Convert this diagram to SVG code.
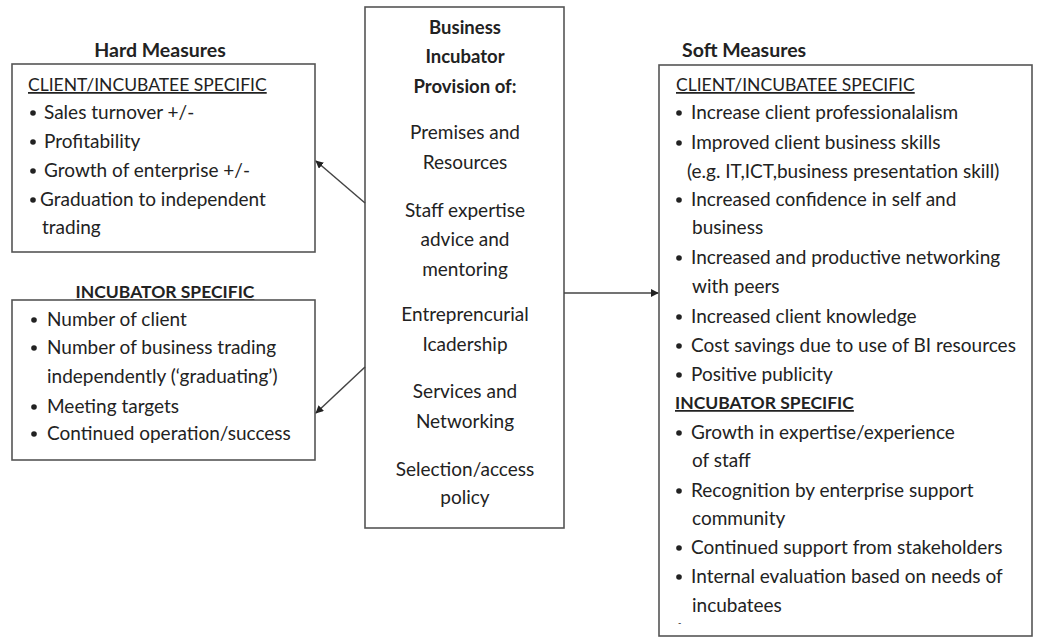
<svg xmlns="http://www.w3.org/2000/svg" width="1038" height="639" viewBox="0 0 1038 639">
<style>
text{font-family:Lato,"Liberation Sans",sans-serif;font-size:19px;fill:#222}
.b{font-weight:bold;font-size:18.5px}
.t{font-size:19.5px}
.h{font-size:17.5px}
.u{text-decoration:underline}
.c{text-anchor:middle}
.box{fill:#fff;stroke:#555;stroke-width:1.6}
.dot{fill:#222}
.con{stroke:#444;stroke-width:1.5;fill:none;marker-end:url(#ah)}
</style>
<defs>
<marker id="ah" viewBox="0 0 10 10" refX="9" refY="5" markerWidth="8" markerHeight="8" orient="auto" markerUnits="userSpaceOnUse"><path d="M0,0 L10,5 L0,10 z" fill="#222"/></marker>
</defs>
<rect width="1038" height="639" fill="#fff"/>

<g id="hard-client">
<text x="160" y="57" class="b c t">Hard Measures</text>
<rect class="box" x="12" y="64" width="303" height="188"/>
<text x="28" y="91" class="u h">CLIENT/INCUBATEE SPECIFIC</text>
<circle class="dot" cx="33" cy="113" r="2.8"/><text x="44" y="119">Sales turnover +/-</text>
<circle class="dot" cx="33" cy="142" r="2.8"/><text x="44" y="148">Profitability</text>
<circle class="dot" cx="33" cy="171" r="2.8"/><text x="44" y="177">Growth of enterprise +/-</text>
<circle class="dot" cx="33" cy="200" r="2.8"/><text x="40" y="206">Graduation to independent</text>
<text x="42" y="234">trading</text>
</g>

<g id="hard-incubator">
<text x="165" y="298" class="b c u h">INCUBATOR SPECIFIC</text>
<rect class="box" x="12" y="300" width="303" height="160"/>
<circle class="dot" cx="34" cy="320" r="2.8"/><text x="47" y="326">Number of client</text>
<circle class="dot" cx="34" cy="348" r="2.8"/><text x="47" y="354">Number of business trading</text>
<text x="47" y="383">independently (‘graduating’)</text>
<circle class="dot" cx="34" cy="407" r="2.8"/><text x="47" y="413">Meeting targets</text>
<circle class="dot" cx="34" cy="434" r="2.8"/><text x="47" y="440">Continued operation/success</text>
</g>

<g id="incubator">
<rect class="box" x="365" y="7" width="199" height="521"/>
<text x="465" y="34" class="b c">Business</text>
<text x="465" y="63" class="b c">Incubator</text>
<text x="465" y="93" class="b c">Provision of:</text>
<text x="465" y="139" class="c">Premises and</text>
<text x="465" y="169" class="c">Resources</text>
<text x="465" y="217" class="c">Staff expertise</text>
<text x="465" y="246" class="c">advice and</text>
<text x="465" y="276" class="c">mentoring</text>
<text x="465" y="321" class="c">Entreprencurial</text>
<text x="465" y="351" class="c">Icadership</text>
<text x="465" y="398" class="c">Services and</text>
<text x="465" y="428" class="c">Networking</text>
<text x="465" y="476" class="c">Selection/access</text>
<text x="465" y="504" class="c">policy</text>
</g>

<g id="soft">
<text x="682" y="57" class="b t">Soft Measures</text>
<rect class="box" x="659" y="65" width="373" height="571"/>
<text x="676" y="91" class="u h">CLIENT/INCUBATEE SPECIFIC</text>
<circle class="dot" cx="679" cy="113" r="2.8"/><text x="691" y="119">Increase client professionalalism</text>
<circle class="dot" cx="679" cy="143" r="2.8"/><text x="691" y="149">Improved client business skills</text>
<text x="687" y="178">(e.g. IT,ICT,business presentation skill)</text>
<circle class="dot" cx="679" cy="200" r="2.8"/><text x="691" y="206">Increased confidence in self and</text>
<text x="692" y="234">business</text>
<circle class="dot" cx="679" cy="258" r="2.8"/><text x="691" y="264">Increased and productive networking</text>
<text x="692" y="293">with peers</text>
<circle class="dot" cx="679" cy="317" r="2.8"/><text x="691" y="323">Increased client knowledge</text>
<circle class="dot" cx="679" cy="346" r="2.8"/><text x="691" y="352">Cost savings due to use of BI resources</text>
<circle class="dot" cx="679" cy="375" r="2.8"/><text x="691" y="381">Positive publicity</text>
<text x="675" y="409" class="b u h">INCUBATOR SPECIFIC</text>
<circle class="dot" cx="679" cy="433" r="2.8"/><text x="691" y="439">Growth in expertise/experience</text>
<text x="692" y="467">of staff</text>
<circle class="dot" cx="679" cy="491" r="2.8"/><text x="691" y="497">Recognition by enterprise support</text>
<text x="692" y="525">community</text>
<circle class="dot" cx="679" cy="548" r="2.8"/><text x="691" y="554">Continued support from stakeholders</text>
<circle class="dot" cx="679" cy="577" r="2.8"/><text x="691" y="583">Internal evaluation based on needs of</text>
<text x="692" y="612">incubatees</text>
<text x="678" y="626" style="font-size:9px">-</text>
</g>

<g id="connectors">
<line class="con" x1="365" y1="203" x2="316" y2="161"/>
<line class="con" x1="365" y1="367" x2="316" y2="413"/>
<line class="con" x1="564" y1="293" x2="658" y2="293"/>
</g>
</svg>
